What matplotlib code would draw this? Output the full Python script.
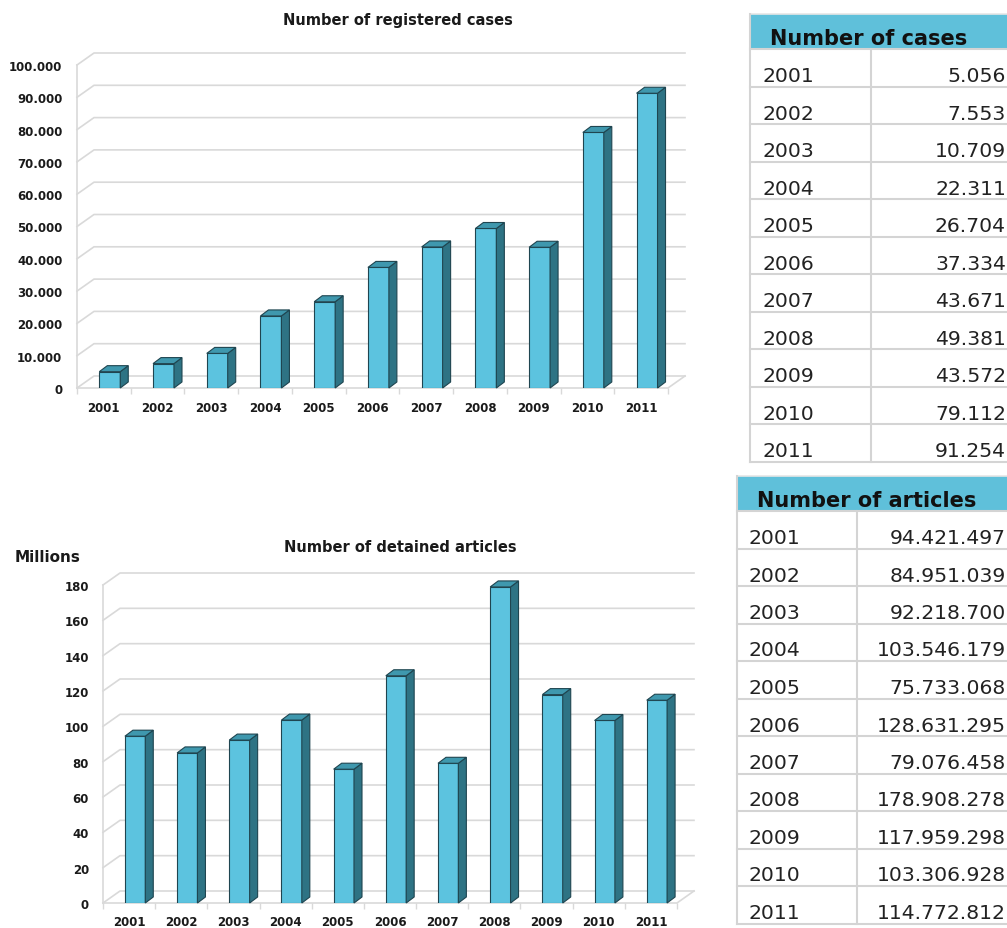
import matplotlib
matplotlib.use('Agg')
import matplotlib.pyplot as plt
from matplotlib.patches import Polygon, Rectangle
import numpy as np

# ---------------- data ----------------
years = ['2001', '2002', '2003', '2004', '2005', '2006', '2007', '2008', '2009', '2010', '2011']
cases = [5056, 7553, 10709, 22311, 26704, 37334, 43671, 49381, 43572, 79112, 91254]
articles = [94421497, 84951039, 92218700, 103546179, 75733068, 128631295,
            79076458, 178908278, 117959298, 103306928, 114772812]
articles_millions = [a / 1e6 for a in articles]
cases_ticks = [0, 10000, 20000, 30000, 40000, 50000, 60000, 70000, 80000, 90000, 100000]
articles_ticks = [0, 20, 40, 60, 80, 100, 120, 140, 160, 180]

title_cases = 'Number of registered cases'
title_articles = 'Number of detained articles'
unit_label = 'Millions'
table_cases_header = 'Number of cases'
table_articles_header = 'Number of articles'


def fmt(v):
    return f"{int(v):,}".replace(',', '.')


# ---------------- style ----------------
FRONT = '#5cc3df'
TOP = '#3f98ae'
SIDE = '#2e7384'
EDGE = '#1f4550'
GRID = '#d9d9d9'
HEADER_BG = '#5fc0da'
TABLE_LINE = '#d4d4d4'
TXT = '#1a1a1a'

W, H = 1007, 929
fig = plt.figure(figsize=(W / 100, H / 100), dpi=100)


def px_axes(left, top, right, bottom):
    return fig.add_axes([left / W, 1 - bottom / H, (right - left) / W, (bottom - top) / H])


def draw_chart(ax, values, ymax, ticks, ticklabels, ax_w, ax_h,
               wall=(17, 12), depth=(8, 6), shift=0.11, width=0.39,
               ypad=10.5, xpad=9.5):
    n = len(values)
    ax.set_xlim(-0.5, n - 0.5)
    ax.set_ylim(0, ymax)
    ux = ax_w / n
    uy = ax_h / ymax
    wdx, wdy = wall[0] / ux, wall[1] / uy
    bdx, bdy = depth[0] / ux, depth[1] / uy

    # back wall gridlines with left-wall diagonals
    for t in ticks:
        ax.plot([-0.5, -0.5 + wdx, n - 0.5 + wdx], [t, t + wdy, t + wdy],
                color=GRID, lw=1.2, clip_on=False, zorder=0)
    # left wall front edge
    ax.plot([-0.5, -0.5], [0, ymax], color=GRID, lw=1.2, clip_on=False, zorder=0)
    # floor front edge
    ax.plot([-0.5, n - 0.5, n - 0.5 + wdx], [0, 0, wdy],
            color=GRID, lw=1.2, clip_on=False, zorder=0)

    xs = np.arange(n) + shift
    ax.bar(xs, values, width, color=FRONT, edgecolor=EDGE, lw=0.8, zorder=3)
    for x, v in zip(xs, values):
        xl, xr = x - width / 2, x + width / 2
        top = Polygon([(xl, v), (xr, v), (xr + bdx, v + bdy), (xl + bdx, v + bdy)],
                      closed=True, facecolor=TOP, edgecolor=EDGE, lw=0.8, zorder=3,
                      clip_on=False)
        side = Polygon([(xr, 0), (xr, v), (xr + bdx, v + bdy), (xr + bdx, bdy)],
                       closed=True, facecolor=SIDE, edgecolor=EDGE, lw=0.8, zorder=3,
                       clip_on=False)
        ax.add_patch(side)
        ax.add_patch(top)

    for s in ax.spines.values():
        s.set_visible(False)
    ax.patch.set_visible(False)
    ax.set_yticks(ticks)
    ax.set_yticklabels(ticklabels, fontsize=8.5, fontweight='bold', color=TXT)
    ax.tick_params(axis='y', length=0, pad=ypad)
    ax.set_xticks(np.arange(n))
    ax.set_xticklabels(years, fontsize=8.5, fontweight='bold', color=TXT)
    ax.set_xticks(np.arange(n + 1) - 0.5, minor=True)
    ax.tick_params(axis='x', which='major', length=0, pad=xpad)
    ax.tick_params(axis='x', which='minor', length=4, color=GRID, width=1.0)


# ---------------- top chart ----------------
ax1 = px_axes(77, 66, 668, 389)
draw_chart(ax1, cases, 100000, cases_ticks, [fmt(t) for t in cases_ticks],
           591, 323, shift=0.11, ypad=10.5, xpad=9.5)
fig.text(398 / W, 1 - 20 / H, title_cases, ha='center', va='center',
         fontsize=10.5, fontweight='bold', color=TXT)

# ---------------- bottom chart ----------------
ax2 = px_axes(103, 586, 677, 904)
draw_chart(ax2, articles_millions, 180, articles_ticks, [str(t) for t in articles_ticks],
           574, 318, shift=0.115, ypad=10, xpad=8.5)
fig.text(400 / W, 1 - 548 / H, title_articles, ha='center', va='center',
         fontsize=10.5, fontweight='bold', color=TXT)
fig.text(48 / W, 1 - 557 / H, unit_label, ha='center', va='center',
         fontsize=11, fontweight='bold', color=TXT)

# ---------------- tables ----------------
axt = fig.add_axes([0, 0, 1, 1])
axt.set_xlim(0, W)
axt.set_ylim(H, 0)
axt.axis('off')
axt.patch.set_visible(False)


def draw_table(header, labels, values, left, divider, head_top, head_bot, row_h,
               head_x, label_x):
    right = W + 5
    axt.add_patch(Rectangle((left, head_top), right - left, head_bot - head_top,
                            facecolor=HEADER_BG, edgecolor='none', zorder=1))
    axt.plot([left, right], [head_top, head_top], color='#e6e6e6', lw=1.2, zorder=2)
    axt.text(head_x, head_bot - 5, header, ha='left', va='baseline',
             fontsize=15, fontweight='bold', color='#111111', zorder=3)
    n = len(labels)
    bottom = head_bot + n * row_h
    axt.plot([left, left], [head_top, bottom], color=TABLE_LINE, lw=1.5, zorder=2)
    axt.plot([divider, divider], [head_bot, bottom], color=TABLE_LINE, lw=1.5, zorder=2)
    for k in range(n + 1):
        y = head_bot + k * row_h
        axt.plot([left, right], [y, y], color=TABLE_LINE, lw=1.5, zorder=2)
    for k, (lab, val) in enumerate(zip(labels, values)):
        yb = head_bot + (k + 1) * row_h - 5.5
        axt.text(label_x, yb, lab, ha='left', va='baseline', fontsize=14.7,
                 color='#222222', zorder=3)
        axt.text(1006, yb, fmt(val), ha='right', va='baseline', fontsize=14.7,
                 color='#222222', zorder=3)


draw_table(table_cases_header, years, cases, 750, 871, 15, 50, 37.5, 770, 762)
draw_table(table_articles_header, years, articles, 737, 857, 477, 512, 37.5, 757, 748)

fig.savefig('out.png', dpi=100)
